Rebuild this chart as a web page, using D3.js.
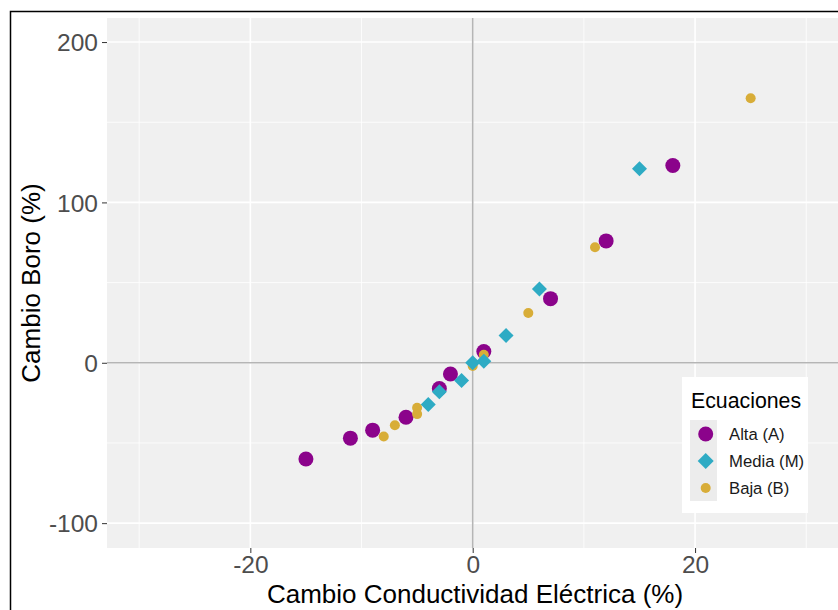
<!DOCTYPE html>
<html>
<head>
<meta charset="utf-8">
<script src="https://cdn.jsdelivr.net/npm/d3@7"></script>
<style>
  body { margin: 0; background: #fff; }
  svg { display: block; font-family: "Liberation Sans", Arial, sans-serif; }
</style>
</head>
<body>
<svg id="chart"></svg>
<script>
// data
const altaX = [-15, -11, -9, -6, -3, -2, 1, 7, 12, 18];
const altaY = [-60, -47, -42, -34, -16, -7, 7, 40, 76, 123];
const mediaX = [-4, -3, -1, 0, 1, 3, 6, 15];
const mediaY = [-26, -18, -11, 0, 1, 17, 46, 121];
const bajaX = [-8, -7, -5, -5, 0, 1, 5, 11, 25];
const bajaY = [-46, -39, -28, -32, -2, 5, 31, 72, 165];
const xTicks = [-20, 0, 20];
const yTicks = [-100, 0, 100, 200];
const xMinor = [-30, -10, 10, 30];
const yMinor = [-50, 50, 150];
const groups = ["Alta (A)", "Media (M)", "Baja (B)"];

const width = 838, height = 610;
const colors = { "Alta (A)": "#8b038b", "Media (M)": "#2eabc4", "Baja (B)": "#d8ad38" };

const svg = d3.select("#chart").attr("width", width).attr("height", height);

const panel = { left: 107, top: 18, right: 838, bottom: 548 };

const xScale = d3.scaleLinear().domain([-32.9, 32.9]).range([106.9, 838.5]);
const yScale = d3.scaleLinear().domain([-115.5, 215]).range([548, 18]);

// outer frame (only left/top edge visible in crop)
svg.append("path")
  .attr("d", `M10.5,${height} V11.5 H${width}`)
  .attr("fill", "none")
  .attr("stroke", "#000")
  .attr("stroke-width", 1.5);

// panel background
svg.append("rect")
  .attr("x", panel.left).attr("y", panel.top)
  .attr("width", panel.right - panel.left).attr("height", panel.bottom - panel.top)
  .attr("fill", "#f0f0f0");

// minor grid
svg.selectAll(".x-minor").data(xMinor).enter().append("line")
  .attr("x1", d => xScale(d)).attr("x2", d => xScale(d))
  .attr("y1", panel.top).attr("y2", panel.bottom)
  .attr("stroke", "#fff").attr("stroke-width", 0.8);
svg.selectAll(".y-minor").data(yMinor).enter().append("line")
  .attr("x1", panel.left).attr("x2", panel.right)
  .attr("y1", d => yScale(d)).attr("y2", d => yScale(d))
  .attr("stroke", "#fff").attr("stroke-width", 0.8);

// major grid
svg.selectAll(".x-major").data(xTicks).enter().append("line")
  .attr("x1", d => xScale(d)).attr("x2", d => xScale(d))
  .attr("y1", panel.top).attr("y2", panel.bottom)
  .attr("stroke", "#fff").attr("stroke-width", 1.6);
svg.selectAll(".y-major").data(yTicks).enter().append("line")
  .attr("x1", panel.left).attr("x2", panel.right)
  .attr("y1", d => yScale(d)).attr("y2", d => yScale(d))
  .attr("stroke", "#fff").attr("stroke-width", 1.6);

// zero reference lines
svg.append("line")
  .attr("x1", xScale(0)).attr("x2", xScale(0))
  .attr("y1", panel.top).attr("y2", panel.bottom)
  .attr("stroke", "#b5b5b5").attr("stroke-width", 1.6);
svg.append("line")
  .attr("x1", panel.left).attr("x2", panel.right)
  .attr("y1", yScale(0)).attr("y2", yScale(0))
  .attr("stroke", "#b5b5b5").attr("stroke-width", 1.6);

// axes
const fmt = d => String(d);
const xAxis = svg.append("g")
  .attr("transform", `translate(0, ${panel.bottom})`)
  .call(d3.axisBottom(xScale).tickValues(xTicks).tickFormat(fmt).tickSize(5).tickPadding(3));
const yAxis = svg.append("g")
  .attr("transform", `translate(${panel.left}, 0)`)
  .call(d3.axisLeft(yScale).tickValues(yTicks).tickFormat(fmt).tickSize(5).tickPadding(4));

[xAxis, yAxis].forEach(axis => {
  axis.select(".domain").remove();
  axis.selectAll(".tick line").attr("stroke", "#333").attr("stroke-width", 1);
  axis.selectAll(".tick text")
    .attr("fill", "#4d4d4d")
    .style("font-size", "24.5px")
    .style("font-family", "'Liberation Sans', Arial, sans-serif");
});
yAxis.selectAll(".tick text").attr("dy", "0.36em");

// axis titles
svg.append("text")
  .attr("x", 475).attr("y", 603)
  .attr("text-anchor", "middle")
  .style("font-size", "26px")
  .attr("fill", "#000")
  .text("Cambio Conductividad Eléctrica (%)");

svg.append("text")
  .attr("transform", `translate(40, ${(panel.top + panel.bottom) / 2}) rotate(-90)`)
  .attr("text-anchor", "middle")
  .style("font-size", "26px")
  .attr("fill", "#000")
  .text("Cambio Boro (%)");

// points (draw order: Alta, Baja, Media)
const toPts = (xs, ys) => xs.map((x, i) => ({ x, y: ys[i] }));

svg.append("g").selectAll("circle").data(toPts(altaX, altaY)).enter().append("circle")
  .attr("cx", d => xScale(d.x)).attr("cy", d => yScale(d.y))
  .attr("r", 7.5).attr("fill", colors["Alta (A)"]);

svg.append("g").selectAll("circle").data(toPts(bajaX, bajaY)).enter().append("circle")
  .attr("cx", d => xScale(d.x)).attr("cy", d => yScale(d.y))
  .attr("r", 5).attr("fill", colors["Baja (B)"]);

const diamond = s => `M0,${-s} L${s},0 L0,${s} L${-s},0 Z`;
svg.append("g").selectAll("path").data(toPts(mediaX, mediaY)).enter().append("path")
  .attr("transform", d => `translate(${xScale(d.x)},${yScale(d.y)})`)
  .attr("d", diamond(7.5)).attr("fill", colors["Media (M)"]);

// legend
const legend = svg.append("g").attr("transform", "translate(682, 377)");
legend.append("rect")
  .attr("width", 126).attr("height", 136)
  .attr("fill", "#fff");
legend.append("text")
  .attr("x", 9).attr("y", 31)
  .style("font-size", "21.3px")
  .attr("fill", "#000")
  .text("Ecuaciones");
legend.append("rect")
  .attr("x", 8).attr("y", 43)
  .attr("width", 27).attr("height", 81)
  .attr("fill", "#ececec");

const keyY = d3.scalePoint().domain(groups).range([57, 111]);
groups.forEach(g => {
  const cy = keyY(g);
  if (g === "Media (M)") {
    legend.append("path")
      .attr("transform", `translate(23.7, ${cy})`)
      .attr("d", diamond(8)).attr("fill", colors[g]);
  } else {
    legend.append("circle")
      .attr("cx", 23.7).attr("cy", cy)
      .attr("r", g === "Alta (A)" ? 7.5 : 5)
      .attr("fill", colors[g]);
  }
  legend.append("text")
    .attr("x", 47).attr("y", cy + 6)
    .style("font-size", "16.7px")
    .attr("fill", "#1a1a1a")
    .text(g);
});
</script>
</body>
</html>
